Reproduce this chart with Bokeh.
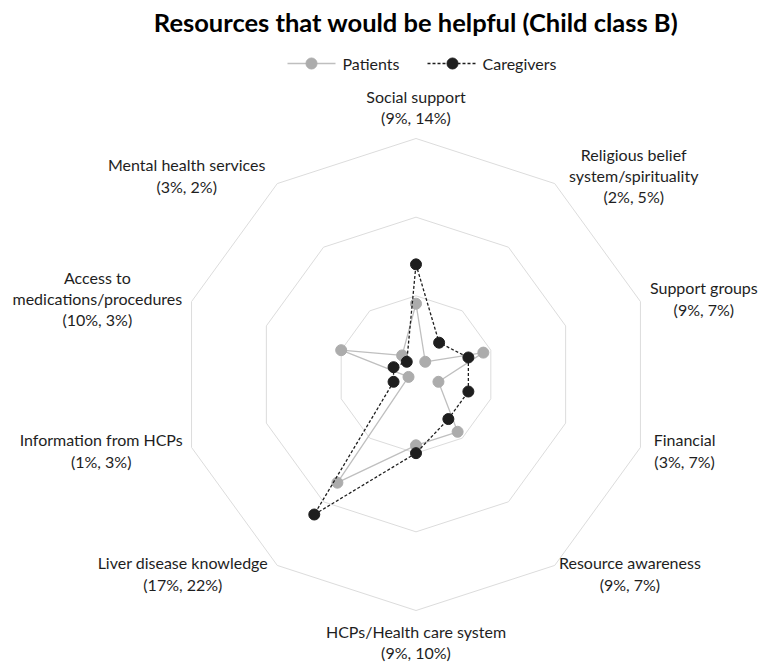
import numpy as np
from bokeh.plotting import figure
from bokeh.models import Range1d
from bokeh.core.properties import value
from bokeh.embed import file_html
from bokeh.resources import INLINE

# --- data -------------------------------------------------------------
categories = [
    "Social support",
    "Religious belief\nsystem/spirituality",
    "Support groups",
    "Financial",
    "Resource awareness",
    "HCPs/Health care system",
    "Liver disease knowledge",
    "Information from HCPs",
    "Access to\nmedications/procedures",
    "Mental health services",
]
patients = [9, 2, 9, 3, 9, 9, 17, 1, 10, 3]
caregivers = [14, 5, 7, 7, 7, 10, 22, 3, 3, 2]
ring_levels = [10, 20, 30]
series_names = ["Patients", "Caregivers"]
title_text = "Resources that would be helpful (Child class B)"

# --- layout -----------------------------------------------------------
W, H = 764, 669
CX, CY = 415.5, 374.0          # radar centre (page pixels, y down)
R_MAX = 236.0                  # radius of outermost ring
SCALE = R_MAX / ring_levels[-1]
LABEL_GAP = 10.0
CHAR_PX = 7.7                  # approx. average glyph width of label font
LINE_PX = 21.5
FONT = "Lato"
LABEL_SIZE = 16
LINE_FACTOR = 1.12             # line height relative to font metrics height
TEXT_COLOR = "#1e1e1e"
PAT_COLOR = "#acacac"
PAT_LINE = "#bfbfbf"
CG_COLOR = "#1e1e1e"
RING_COLOR = "#dcdcdc"

n = len(categories)
theta = np.arange(n) * 2 * np.pi / n


def to_xy(values):
    r = np.asarray(values, dtype=float) * SCALE
    return CX + r * np.sin(theta), CY - r * np.cos(theta)


p = figure(
    width=W, height=H,
    x_range=Range1d(0, W), y_range=Range1d(H, 0),
    x_axis_type=None, y_axis_type=None,
    toolbar_location=None, output_backend="svg",
    min_border=0, outline_line_color=None,
    background_fill_color="white", border_fill_color="white",
)
p.grid.visible = False

# rings
for lvl in ring_levels:
    r = lvl * SCALE
    xs = list(CX + r * np.sin(theta)) + [CX]
    ys = list(CY - r * np.cos(theta)) + [CY - r]
    p.line(xs, ys, line_color=RING_COLOR, line_width=1)

# series
px, py = to_xy(patients)
p.line(list(px) + [px[0]], list(py) + [py[0]], line_color=PAT_LINE, line_width=1.3)
p.scatter(px, py, size=11, fill_color=PAT_COLOR, line_color=PAT_COLOR)

cx_, cy_ = to_xy(caregivers)
p.line(list(cx_) + [cx_[0]], list(cy_) + [cy_[0]], line_color=CG_COLOR,
       line_width=1.3, line_dash="3 2")
p.scatter(cx_, cy_, size=11, fill_color=CG_COLOR, line_color=CG_COLOR)

# category labels with (patients, caregivers) values
lx, ly, lt = [], [], []
for i, name in enumerate(categories):
    text = f"{name}\n({patients[i]}%, {caregivers[i]}%)"
    lines = text.split("\n")
    half_w = max(len(s) for s in lines) * CHAR_PX / 2
    half_h = len(lines) * LINE_PX / 2
    s, c = np.sin(theta[i]), np.cos(theta[i])
    ax = CX + (R_MAX + LABEL_GAP) * s
    ay = CY - (R_MAX + LABEL_GAP) * c
    if abs(s) < 0.01:
        x, y = ax, ay - np.sign(c) * half_h
    else:
        x, y = ax + np.sign(s) * half_w, ay
    lx.append(x)
    ly.append(y)
    lt.append(text)

p.text(lx, ly, text=lt, text_align="center", text_baseline="middle",
       text_font=value(FONT), text_font_size=f"{LABEL_SIZE}px",
       text_color=TEXT_COLOR, text_line_height=LINE_FACTOR)

# title
p.text([CX], [21], text=[title_text], text_align="center", text_baseline="middle",
       text_font=value(FONT), text_font_size="25.5px", text_font_style="bold",
       text_color="black")

# legend
LEG_Y = 63
p.line([287, 335], [LEG_Y, LEG_Y], line_color=PAT_LINE, line_width=1.3)
p.scatter([311], [LEG_Y], size=11, fill_color=PAT_COLOR, line_color=PAT_COLOR)
p.text([342], [LEG_Y], text=[series_names[0]], text_align="left", text_baseline="middle",
       text_font=value(FONT), text_font_size=f"{LABEL_SIZE}px", text_color=TEXT_COLOR)
p.line([427, 477], [LEG_Y, LEG_Y], line_color=CG_COLOR, line_width=1.3, line_dash="3 2")
p.scatter([452], [LEG_Y], size=11, fill_color=CG_COLOR, line_color=CG_COLOR)
p.text([482], [LEG_Y], text=[series_names[1]], text_align="left", text_baseline="middle",
       text_font=value(FONT), text_font_size=f"{LABEL_SIZE}px", text_color=TEXT_COLOR)

open("out.html", "w").write(file_html(p, INLINE))
